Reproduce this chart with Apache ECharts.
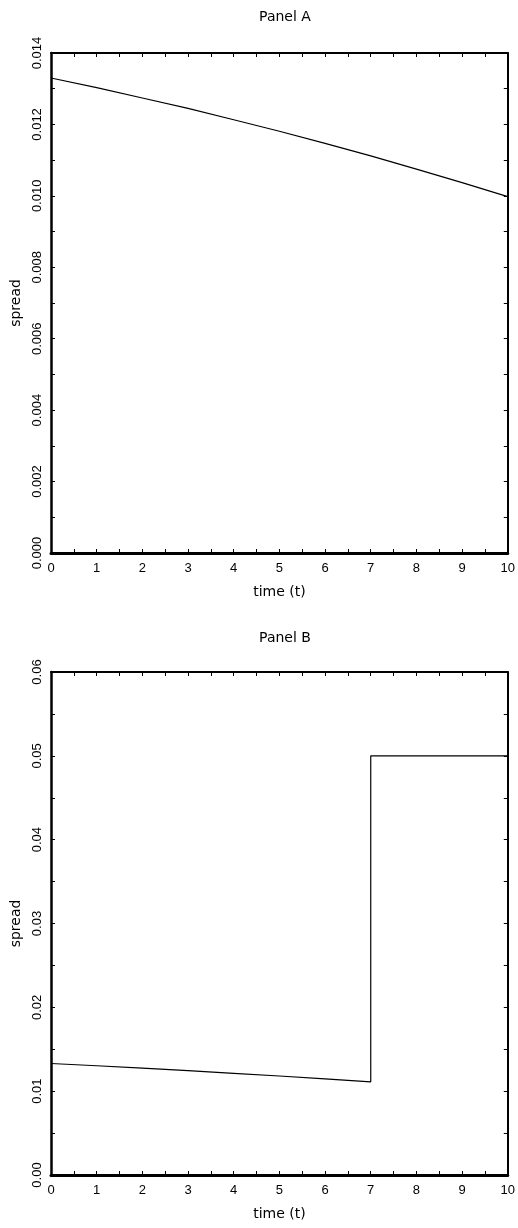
<!DOCTYPE html>
<html>
<head>
<meta charset="utf-8">
<script src="https://cdn.jsdelivr.net/npm/echarts@6/dist/echarts.min.js"></script>
<style>
  html, body { margin: 0; padding: 0; background: #fff; }
  #chart { width: 518px; height: 1228px; }
</style>
</head>
<body>
<div id="chart"></div>
<script>
// Panel A: spread over time
const timeA = [0, 1, 2, 3, 4, 5, 6, 7, 8, 9, 10];
const spreadA = [0.01330, 0.01303, 0.01274, 0.01245, 0.01213, 0.01181, 0.01147, 0.01112, 0.01075, 0.01037, 0.00998];

// Panel B: same path until t=7, then jumps to 0.05
const timeB = [0, 1, 2, 3, 4, 5, 6, 7, 7, 10];
const spreadB = [0.01330, 0.01303, 0.01274, 0.01245, 0.01213, 0.01181, 0.01147, 0.01112, 0.05, 0.05];

const titles = ['Panel A', 'Panel B'];
const yTicksA = { min: 0, max: 0.014, interval: 0.002, digits: 3 };
const yTicksB = { min: 0, max: 0.06, interval: 0.01, digits: 2 };

const tickFont = 'Liberation Sans';
const nameFont = 'DejaVu Sans';
const black = '#000';

function xAxes(gridIndex) {
  const base = {
    gridIndex: gridIndex, type: 'value', min: 0, max: 10, interval: 1,
    splitLine: { show: false },
    axisTick: { inside: true, length: 4, lineStyle: { color: black, width: 1 } },
    minorTick: { show: true, splitNumber: 2, length: 4, lineStyle: { color: black, width: 1 } }
  };
  return [
    Object.assign({}, base, {
      position: 'bottom',
      axisLine: { onZero: false, lineStyle: { color: black, width: 3 } },
      axisLabel: { color: black, fontFamily: tickFont, fontSize: 13, margin: 9 },
      name: 'time (t)', nameLocation: 'middle', nameGap: 32,
      nameTextStyle: { color: black, fontFamily: nameFont, fontSize: 14 }
    }),
    Object.assign({}, base, {
      position: 'top',
      axisLine: { onZero: false, lineStyle: { color: black, width: 2 } },
      axisLabel: { show: false }
    })
  ];
}

function yAxes(gridIndex, t) {
  const base = {
    gridIndex: gridIndex, type: 'value', min: t.min, max: t.max, interval: t.interval,
    splitLine: { show: false },
    axisTick: { inside: true, length: 4, lineStyle: { color: black, width: 1 } },
    minorTick: { show: true, splitNumber: 2, length: 4, lineStyle: { color: black, width: 1 } }
  };
  return [
    Object.assign({}, base, {
      position: 'left',
      axisLine: { onZero: false, lineStyle: { color: black, width: 2.5 } },
      axisLabel: {
        color: black, fontFamily: tickFont, fontSize: 13, margin: 7, rotate: 90,
        formatter: v => v.toFixed(t.digits)
      },
      name: 'spread', nameLocation: 'middle', nameGap: 27, nameRotate: 90,
      nameTextStyle: { color: black, fontFamily: nameFont, fontSize: 14 }
    }),
    Object.assign({}, base, {
      position: 'right',
      axisLine: { onZero: false, lineStyle: { color: black, width: 2 } },
      axisLabel: { show: false }
    })
  ];
}

function pairs(xs, ys) {
  return xs.map((x, i) => [x, ys[i]]);
}

const titleStyle = { color: black, fontFamily: nameFont, fontSize: 14, fontWeight: 'normal' };

const option = {
  animation: false,
  backgroundColor: '#fff',
  title: [
    { text: titles[0], left: 280, top: 5, textAlign: 'center', textStyle: titleStyle },
    { text: titles[1], left: 280, top: 626, textAlign: 'center', textStyle: titleStyle }
  ],
  grid: [
    { left: 51, right: 10, top: 53, height: 500 },
    { left: 51, right: 10, top: 672, height: 503 }
  ],
  xAxis: xAxes(0).concat(xAxes(1)),
  yAxis: yAxes(0, yTicksA).concat(yAxes(1, yTicksB)),
  series: [
    {
      type: 'line', xAxisIndex: 0, yAxisIndex: 0, showSymbol: false,
      lineStyle: { color: black, width: 1.2 },
      data: pairs(timeA, spreadA)
    },
    {
      type: 'line', xAxisIndex: 2, yAxisIndex: 2, showSymbol: false,
      lineStyle: { color: black, width: 1.2 },
      data: pairs(timeB, spreadB)
    }
  ]
};

const myChart = echarts.init(document.getElementById('chart'));
myChart.setOption(option);
</script>
</body>
</html>
